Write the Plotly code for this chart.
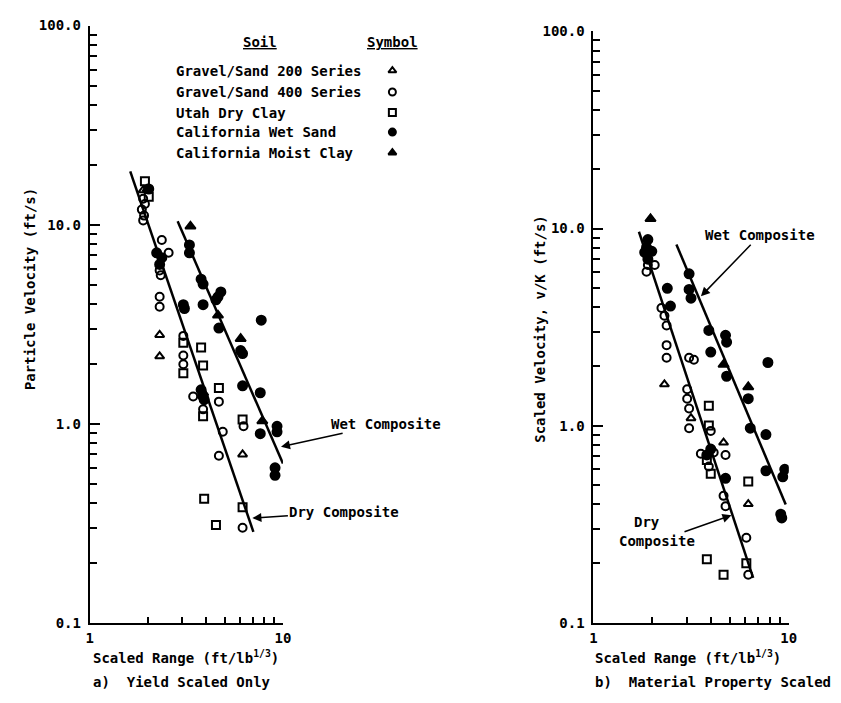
import plotly.graph_objects as go

W, H = 841, 703
FONT = "DejaVu Sans Mono"

# ---------------- data: a) Yield Scaled Only ----------------
a_gs200_x = [1.89, 1.98, 2.30, 2.30, 6.18]
a_gs200_y = [14.9, 15.1, 2.79, 2.18, 0.70]

a_gs400_x = [1.89, 1.93, 1.86, 1.91, 1.89, 2.36, 2.56, 2.30, 2.33, 2.30, 2.30,
             3.05, 3.05, 3.05, 3.43, 3.86, 4.66, 4.88, 4.66, 6.25, 6.18]
a_gs400_y = [13.5, 12.7, 11.9, 11.1, 10.5, 8.37, 7.22, 5.89, 5.57, 4.34, 3.87,
             2.76, 2.20, 1.99, 1.37, 1.18, 1.29, 0.91, 0.69, 0.97, 0.30]

a_utah_x = [1.93, 2.02, 3.05, 3.05, 3.77, 3.86, 3.86, 4.66, 6.18, 3.91, 6.18, 4.50]
a_utah_y = [16.5, 13.8, 2.55, 1.79, 2.41, 1.96, 1.09, 1.51, 1.05, 0.42, 0.38, 0.31]

a_wet_x = [2.02, 2.22, 2.36, 2.30, 3.05, 3.09, 3.86, 3.28, 3.28, 3.77, 3.86, 4.77,
           4.61, 4.50, 4.66, 7.72, 6.18, 6.04, 6.18, 7.63, 7.63, 9.32, 9.32, 9.10,
           9.10, 3.77, 3.86, 3.91]
a_wet_y = [15.1, 7.22, 6.82, 6.31, 3.96, 3.79, 3.96, 7.91, 7.22, 5.32, 5.03, 4.59,
           4.34, 4.19, 3.02, 3.31, 2.25, 2.33, 1.55, 1.43, 0.89, 0.97, 0.91, 0.60,
           0.55, 1.48, 1.37, 1.32]

a_moist_x = [3.32, 4.61, 6.04, 7.82, 3.86]
a_moist_y = [9.81, 3.50, 2.67, 1.03, 1.43]

a_dry_line_x = [1.62, 7.03]
a_dry_line_y = [18.5, 0.286]
a_wet_line_x = [2.85, 10.0]
a_wet_line_y = [10.4, 0.63]

# ---------------- data: b) Material Property Scaled ----------------
b_gs200_x = [2.31, 3.16, 4.64, 6.21]
b_gs200_y = [1.62, 1.09, 0.82, 0.40]

b_gs400_x = [1.90, 2.06, 1.87, 2.23, 2.31, 2.37, 2.37, 2.37, 3.09, 3.27, 3.02, 3.02,
             3.09, 3.09, 3.99, 3.55, 4.13, 3.90, 4.75, 4.64, 4.75, 6.07, 6.21]
b_gs400_y = [6.53, 6.53, 6.03, 3.95, 3.61, 3.22, 2.56, 2.21, 2.21, 2.16, 1.53, 1.37,
             1.22, 0.97, 0.94, 0.72, 0.73, 0.62, 0.71, 0.44, 0.39, 0.27, 0.175]

b_utah_x = [3.90, 3.90, 3.99, 6.21, 3.81, 6.07, 4.64, 3.81]
b_utah_y = [1.26, 1.00, 0.57, 0.52, 0.21, 0.20, 0.175, 0.67]

b_wet_x = [1.90, 1.87, 1.83, 1.99, 1.90, 2.39, 2.48, 3.09, 3.09, 3.16, 3.90, 3.99,
           4.75, 4.81, 7.83, 4.81, 6.21, 6.36, 7.65, 3.99, 3.81, 4.75, 7.65, 9.55,
           9.33, 9.11, 9.22]
b_wet_y = [8.79, 8.02, 7.57, 7.66, 6.99, 4.97, 4.04, 5.89, 4.91, 4.43, 3.04, 2.36,
           2.87, 2.65, 2.09, 1.78, 1.37, 0.97, 0.90, 0.76, 0.71, 0.54, 0.59, 0.60,
           0.55, 0.355, 0.34]

b_moist_x = [1.96, 4.64, 6.21]
b_moist_y = [11.2, 2.04, 1.57]

b_dry_line_x = [1.71, 6.58]
b_dry_line_y = [9.63, 0.169]
b_wet_line_x = [2.66, 9.66]
b_wet_line_y = [8.30, 0.398]

# ---------------- legend ----------------
soil_names = ["Gravel/Sand 200 Series", "Gravel/Sand 400 Series", "Utah Dry Clay",
              "California Wet Sand", "California Moist Clay"]
soil_symbols = ["triangle-up-open", "circle-open", "square-open", "circle", "triangle-up"]

y_ticks = [0.1, 1, 10, 100]
y_ticktext = ["0.1", "1.0", "10.0", "100.0"]
x_ticks = [1, 10]
x_ticktext = ["1", "10"]
x_minor = [2, 3, 4, 5, 6, 7, 8, 9]
y_minor = [0.2, 0.3, 0.4, 0.5, 0.6, 0.7, 0.8, 0.9, 2, 3, 4, 5, 6, 7, 8, 9,
           20, 30, 40, 50, 60, 70, 80, 90]


def P(px, py):
    return px / W, 1 - py / H


def mstyle(sym):
    filled = not sym.endswith("open")
    return dict(symbol=sym, size=9 if filled else 8, color="black",
                line=dict(color="black", width=2))


fig = go.Figure()

series_a = [(a_gs200_x, a_gs200_y), (a_gs400_x, a_gs400_y), (a_utah_x, a_utah_y),
            (a_wet_x, a_wet_y), (a_moist_x, a_moist_y)]
series_b = [(b_gs200_x, b_gs200_y), (b_gs400_x, b_gs400_y), (b_utah_x, b_utah_y),
            (b_wet_x, b_wet_y), (b_moist_x, b_moist_y)]

for (xs, ys), name, sym in zip(series_a, soil_names, soil_symbols):
    fig.add_trace(go.Scatter(x=xs, y=ys, mode="markers", name=name,
                             marker=mstyle(sym), xaxis="x", yaxis="y"))
for (xs, ys), name, sym in zip(series_b, soil_names, soil_symbols):
    fig.add_trace(go.Scatter(x=xs, y=ys, mode="markers", name=name,
                             marker=mstyle(sym), xaxis="x2", yaxis="y2"))

line = dict(color="black", width=2.5)
fig.add_trace(go.Scatter(x=a_dry_line_x, y=a_dry_line_y, mode="lines", line=line,
                         name="Dry Composite", xaxis="x", yaxis="y"))
fig.add_trace(go.Scatter(x=a_wet_line_x, y=a_wet_line_y, mode="lines", line=line,
                         name="Wet Composite", xaxis="x", yaxis="y"))
fig.add_trace(go.Scatter(x=b_dry_line_x, y=b_dry_line_y, mode="lines", line=line,
                         name="Dry Composite", xaxis="x2", yaxis="y2"))
fig.add_trace(go.Scatter(x=b_wet_line_x, y=b_wet_line_y, mode="lines", line=line,
                         name="Wet Composite", xaxis="x2", yaxis="y2"))

# legend symbols on a full-page hidden axis pair
leg_rows_py = [64, 86, 107, 127, 148]
fig.add_trace(go.Scatter(
    x=[P(394, 0)[0]] * 5, y=[P(0, r)[1] for r in leg_rows_py], mode="markers",
    marker=dict(symbol=soil_symbols, size=7, color="black",
                line=dict(color="black", width=2)),
    xaxis="x3", yaxis="y3", hoverinfo="skip", showlegend=False))

tickfont = dict(family=FONT, size=14, color="black", weight=700)


def xaxis(dom):
    return dict(type="log", range=[0, 1], domain=dom, showline=True, linecolor="black",
                linewidth=2, ticks="inside", ticklen=8, tickwidth=2, tickcolor="black",
                tickmode="array", tickvals=x_ticks, ticktext=x_ticktext,
                tickfont=tickfont, showgrid=False, zeroline=False, mirror=False,
                ticklabelstandoff=2,
                minor=dict(ticks="inside", ticklen=6, tickwidth=1.5, tickcolor="black",
                           tickmode="array", tickvals=x_minor, showgrid=False))


def yaxis(dom, anchor):
    return dict(type="log", range=[-1, 2], domain=dom, anchor=anchor, showline=True,
                linecolor="black", linewidth=2, ticks="inside", ticklen=10,
                tickwidth=2, tickcolor="black", tickmode="array", tickvals=y_ticks,
                ticktext=y_ticktext, tickfont=tickfont, showgrid=False, zeroline=False,
                mirror=False, ticklabelstandoff=4,
                minor=dict(ticks="inside", ticklen=7, tickwidth=1.5, tickcolor="black",
                           tickmode="array", tickvals=y_minor, showgrid=False))


xa = xaxis([87 / W, 283 / W]); xa["anchor"] = "y"
xb = xaxis([598 / W, 796 / W]); xb["anchor"] = "y2"
ya = yaxis([1 - 629 / H, 1 - 18 / H], "x")
yb = yaxis([1 - 629 / H, 1 - 24 / H], "x2")

fig.update_layout(
    width=W, height=H, margin=dict(l=0, r=0, t=0, b=0),
    paper_bgcolor="white", plot_bgcolor="rgba(0,0,0,0)", showlegend=False,
    font=dict(family=FONT, size=14, color="black", weight=700),
    xaxis=xa, yaxis=ya, xaxis2=xb, yaxis2=yb,
    xaxis3=dict(domain=[0, 1], range=[0, 1], visible=False, anchor="y3",
                fixedrange=True),
    yaxis3=dict(domain=[0, 1], range=[0, 1], visible=False, anchor="x3",
                fixedrange=True),
)

ann = []
AFONT = dict(family=FONT, size=14, color="black", weight=700)


def text(px, py, s, xanchor="left", angle=0):
    x, y = P(px, py)
    ann.append(dict(x=x, y=y, xref="paper", yref="paper", text=s, showarrow=False,
                    xanchor=xanchor, yanchor="middle", textangle=angle, font=AFONT))


def arrow_label(s, cx, cy, hx, hy):
    """Label centred at pixel (cx, cy) with an arrow pointing to pixel (hx, hy)."""
    x, y = P(hx, hy)
    ann.append(dict(x=x, y=y, xref="paper", yref="paper", text=s, showarrow=True,
                    ax=cx - hx, ay=cy - hy, axref="pixel", ayref="pixel",
                    arrowhead=2, arrowsize=1.2, arrowwidth=1.5, arrowcolor="black",
                    font=AFONT))


# legend text
text(260, 35, "<u>Soil</u>", xanchor="center")
text(394, 35, "<u>Symbol</u>", xanchor="center")
for name, r in zip(soil_names, leg_rows_py):
    text(172, r, name)

# axis titles
text(27, 288, "Particle Velocity (ft/s)", xanchor="center", angle=-90)
text(543, 328, "Scaled Velocity, v/K (ft/s)", xanchor="center", angle=-90)
text(88, 664, "Scaled Range (ft/lb<sup>1/3</sup>)")
text(598, 664, "Scaled Range (ft/lb<sup>1/3</sup>)")
text(88, 690, "a)  Yield Scaled Only")
text(598, 690, "b)  Material Property Scaled")

# composite labels with arrows
arrow_label("Wet Composite", 386, 426, 281, 449)
arrow_label("Dry Composite", 344, 516, 252, 522)
arrow_label("Wet Composite", 766, 234, 707, 295)
text(652, 526, "Dry", xanchor="center")
arrow_label("Composite", 664, 545, 738, 519)

fig.update_layout(annotations=ann)
fig.write_html("out.html")
